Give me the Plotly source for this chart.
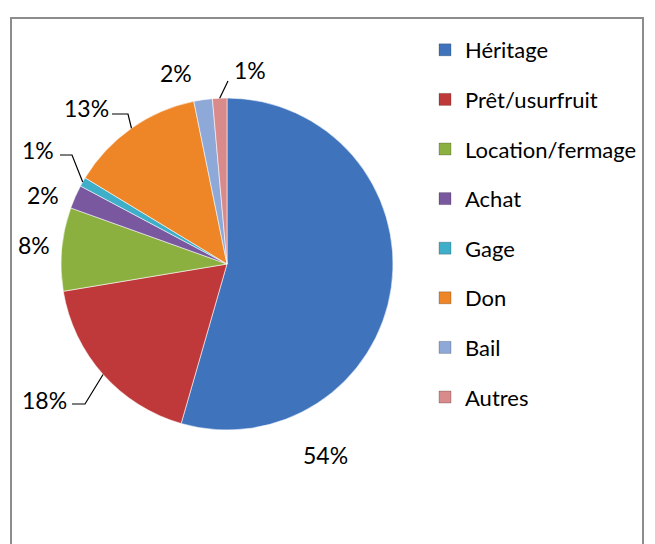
import math
import plotly.graph_objects as go

# ---- data ----
categories = ["Héritage", "Prêt/usurfruit", "Location/fermage", "Achat",
              "Gage", "Don", "Bail", "Autres"]
values = [54.4, 17.9, 8.1, 2.3, 0.9, 13.1, 1.8, 1.4]
colors = ["#3F74BD", "#C0393A", "#8CB03F", "#7A58A0",
          "#3FAEC8", "#EE8526", "#8EA8D8", "#D98A8A"]

# ---- layout constants (pixels) ----
W, H = 655, 544
CX, CY, R = 227, 264, 166
FONT = "Lato, 'Open Sans', sans-serif"

# label text centers (px) and optional leader elbow (px)
label_pos = [(325, 455), (44, 400), (34, 245), (43, 195),
             (38, 150), (86, 108), (176, 73), (250, 70)]
leader_elbow = [None, ((72, 404), (85, 404)), None, None,
                ((60, 155), (72, 155)), ((112, 114), (128, 114)), None,
                ((228, 81), (228, 81))]


def px(x, y):
    return x / W, 1 - y / H


total = sum(values)
pcts = [round(v / total * 100) for v in values]

fig = go.Figure()
fig.add_trace(go.Pie(
    labels=categories,
    values=values,
    sort=False,
    direction="clockwise",
    rotation=0,
    textinfo="none",
    showlegend=False,
    marker=dict(colors=colors, line=dict(color="rgba(255,255,255,0.7)", width=0.8)),
    domain=dict(x=[(CX - R) / W, (CX + R) / W],
                y=[1 - (CY + R) / H, 1 - (CY - R) / H]),
    hoverinfo="label+percent",
))

# legend entries (one per category, same colours as the slices)
for c, col in zip(categories, colors):
    fig.add_trace(go.Scatter(
        x=[None], y=[None], mode="markers", name=c, legendgroup=c,
        marker=dict(symbol="square", size=12, color=col,
                    line=dict(color="rgba(0,0,0,0.35)", width=0.6)),
        showlegend=True, hoverinfo="skip"))

annotations = []
shapes = []
cum = 0.0
for i, v in enumerate(values):
    mid = (cum + v / 2) / total * 2 * math.pi
    cum += v
    ex = CX + R * math.sin(mid)
    ey = CY - R * math.cos(mid)
    lx, ly = label_pos[i]
    ax, ay = px(lx, ly)
    annotations.append(dict(
        x=ax, y=ay, xref="paper", yref="paper", text=f"{pcts[i]}%",
        showarrow=False, xanchor="center", yanchor="middle",
        font=dict(family=FONT, size=23, color="#000000")))
    if leader_elbow[i] is not None:
        (x1, y1), (x2, y2) = leader_elbow[i]
        p1, p2, p3 = px(x1, y1), px(x2, y2), px(ex, ey)
        shapes.append(dict(
            type="path", xref="paper", yref="paper",
            path=f"M {p1[0]} {p1[1]} L {p2[0]} {p2[1]} L {p3[0]} {p3[1]}",
            line=dict(color="#000000", width=1.2)))

# outer chart border
b0, b1 = px(11, 18), px(643, 560)
shapes.append(dict(type="rect", xref="paper", yref="paper",
                   x0=b0[0], y0=b1[1], x1=b1[0], y1=b0[1],
                   line=dict(color="#8c8c8c", width=2), layer="below"))

fig.update_layout(
    width=W, height=H,
    margin=dict(l=0, r=0, t=0, b=0),
    paper_bgcolor="white", plot_bgcolor="white",
    xaxis=dict(visible=False), yaxis=dict(visible=False),
    showlegend=True,
    legend=dict(x=425 / W, y=1 - 29 / H, xanchor="left", yanchor="top",
                font=dict(family=FONT, size=22, color="#000000"),
                tracegroupgap=18, bgcolor="rgba(0,0,0,0)",
                traceorder="grouped"),
    annotations=annotations,
    shapes=shapes,
)

fig.write_html("out.html",
               config={"displayModeBar": False},
               post_script="document.body.style.margin='0';"
                           "document.body.style.overflow='hidden';")
